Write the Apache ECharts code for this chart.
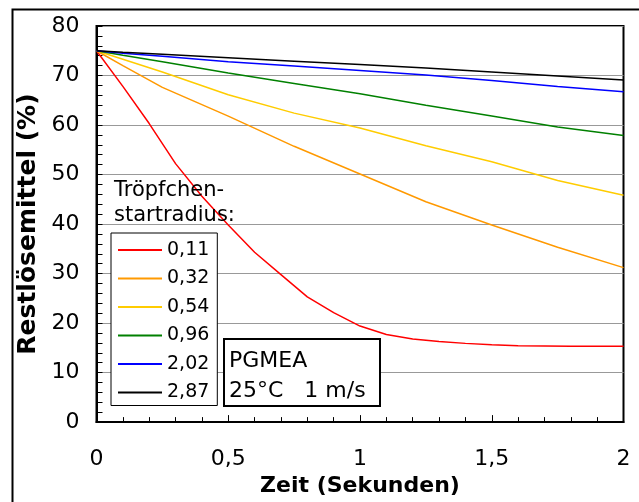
<!DOCTYPE html>
<html>
<head>
<meta charset="utf-8">
<script src="https://cdn.jsdelivr.net/npm/echarts@6/dist/echarts.min.js"></script>
<style>
  html, body { margin: 0; padding: 0; background: #fff; }
  #main { width: 639px; height: 502px; }
</style>
</head>
<body>
<div id="main"></div>
<script>
var radii = ['0,11', '0,32', '0,54', '0,96', '2,02', '2,87'];
var colors = ['#ff0000', '#ff9900', '#ffcc00', '#008000', '#0000ff', '#000000'];

var timeRed = [0, 0.1, 0.2, 0.3, 0.4, 0.5, 0.6, 0.7, 0.8, 0.9, 1.0, 1.1, 1.2, 1.3, 1.4, 1.5, 1.6, 1.8, 2.0];
var red = [75, 67.8, 60.3, 52.2, 45.6, 39.8, 34.3, 29.8, 25.3, 22.1, 19.4, 17.7, 16.8, 16.3, 15.9, 15.6, 15.4, 15.3, 15.3];

var time = [0, 0.1, 0.25, 0.5, 0.75, 1, 1.25, 1.5, 1.75, 2];
var orange = [75, 72, 67.6, 61.8, 55.7, 50.1, 44.5, 39.8, 35.3, 31.2];
var yellow = [75, 73.3, 70.7, 66.1, 62.4, 59.4, 55.8, 52.6, 48.8, 45.8];
var green = [75, 74.1, 72.8, 70.5, 68.4, 66.3, 64.0, 61.8, 59.6, 57.9];
var blue = [75, 74.5, 73.9, 72.8, 71.9, 71.0, 70.1, 69.0, 67.8, 66.7];
var black = [75, 74.7, 74.3, 73.6, 72.9, 72.2, 71.5, 70.7, 69.9, 69.1];

function pairs(xs, ys) {
  return xs.map(function (x, i) { return [x, ys[i]]; });
}

var seriesData = [
  pairs(timeRed, red),
  pairs(time, orange),
  pairs(time, yellow),
  pairs(time, green),
  pairs(time, blue),
  pairs(time, black)
];

var font = 'DejaVu Sans';

var myChart = echarts.init(document.getElementById('main'));
var option = {
  backgroundColor: '#fff',
  animation: false,
  grid: {
    left: 96.5, right: 15.5, top: 26, bottom: 78,
    show: true, borderColor: '#000', borderWidth: 2
  },
  xAxis: {
    type: 'value', min: 0, max: 2, interval: 0.5,
    name: 'Zeit (Sekunden)', nameLocation: 'middle', nameGap: 50,
    nameTextStyle: { fontFamily: font, fontSize: 22, fontWeight: 'bold', color: '#000' },
    axisLine: { lineStyle: { color: '#000', width: 2 } },
    axisTick: { inside: true, length: 7, lineStyle: { color: '#000' } },
    minorTick: { show: true, splitNumber: 5, length: 5, lineStyle: { color: '#000' } },
    axisLabel: {
      margin: 26, fontFamily: font, fontSize: 22, color: '#000',
      formatter: function (v) { return String(v).replace('.', ','); }
    },
    splitLine: { show: false }
  },
  yAxis: {
    type: 'value', min: 0, max: 80, interval: 10,
    name: 'Restlösemittel (%)', nameLocation: 'middle', nameGap: 50,
    nameTextStyle: { fontFamily: font, fontSize: 25, fontWeight: 'bold', color: '#000' },
    axisLine: { show: true, lineStyle: { color: '#000', width: 2 } },
    axisTick: { show: true, inside: true, length: 6, lineStyle: { color: '#000' } },
    minorTick: { show: true, splitNumber: 5, length: 6, lineStyle: { color: '#000' } },
    axisLabel: { margin: 17, fontFamily: font, fontSize: 22, color: '#000' },
    splitLine: { show: true, lineStyle: { color: '#999', width: 1 } }
  },
  legend: {
    orient: 'vertical', left: 111, top: 233,
    padding: [7, 8, 3, 7],
    icon: 'rect',
    itemWidth: 44, itemHeight: 2, itemGap: 8.5,
    backgroundColor: '#fff', borderColor: '#000', borderWidth: 1,
    textStyle: { fontFamily: font, fontSize: 19, lineHeight: 20, color: '#000' },
    data: radii
  },
  graphic: [
    { type: 'rect', left: 10, top: 7, z: -10, silent: true,
      shape: { width: 640, height: 500 },
      style: { fill: 'none', stroke: '#000', lineWidth: 2 } },
    { type: 'text', left: 114, top: 178, z: 10,
      style: { text: 'Tröpfchen-\nstartradius:', font: '21px "DejaVu Sans"', fill: '#000', lineHeight: 25 } },
    { type: 'rect', left: 223, top: 338, z: 10,
      shape: { width: 156, height: 67 },
      style: { fill: '#fff', stroke: '#000', lineWidth: 2 } },
    { type: 'text', left: 229, top: 346, z: 11,
      style: { text: 'PGMEA\n25°C   1 m/s', font: '22px "DejaVu Sans"', fill: '#000', lineHeight: 30 } }
  ],
  series: radii.map(function (name, i) {
    return {
      name: name, type: 'line', data: seriesData[i],
      symbol: 'none', smooth: false,
      lineStyle: { color: colors[i], width: 1.5 },
      itemStyle: { color: colors[i] }
    };
  })
};
myChart.setOption(option);

window.addEventListener('resize', function () {
  myChart.resize();
});
</script>
</body>
</html>
